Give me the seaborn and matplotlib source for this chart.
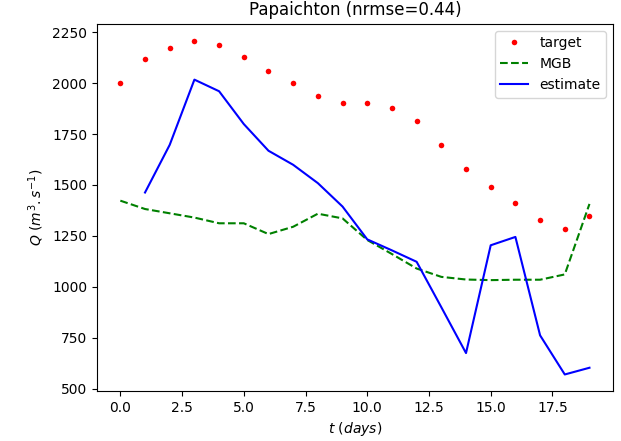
import numpy as np
import pandas as pd
import matplotlib
matplotlib.use("Agg")
import matplotlib.pyplot as plt
import seaborn as sns

days = list(range(20))
target = [2001, 2119, 2170, 2209, 2189, 2129, 2061, 2001, 1938, 1901,
          1903, 1878, 1812, 1697, 1579, 1491, 1410, 1328, 1282, 1348]
mgb = [1423, 1382, 1361, 1340, 1312, 1312, 1259, 1295, 1359, 1336,
       1230, 1161, 1090, 1049, 1036, 1033, 1035, 1035, 1061, 1407]
est_days = list(range(1, 20))
estimate = [1463, 1697, 2017, 1960, 1799, 1668, 1599, 1509, 1394,
            1233, 1179, 1123, 900, 675, 1204, 1245, 762, 570, 603]

fig = plt.figure(figsize=(6.21, 4.41), dpi=100)
ax = fig.add_axes([0.156, 0.113, 0.831, 0.833])

sns.lineplot(x=days, y=target, ax=ax, color="red", marker="o", linestyle="",
             markersize=4, markeredgewidth=0, label="target")
sns.lineplot(x=days, y=mgb, ax=ax, color="green", linestyle="--", label="MGB")
sns.lineplot(x=est_days, y=estimate, ax=ax, color="blue", label="estimate")

ax.set_title("Papaichton (nrmse=0.44)")
ax.set_xlabel(r"$t\ (days)$")
ax.set_ylabel(r"$Q\ (m^3.s^{-1})$")
ax.set_xticks([0, 2.5, 5, 7.5, 10, 12.5, 15, 17.5])
ax.set_yticks([500, 750, 1000, 1250, 1500, 1750, 2000, 2250])
ax.legend(loc="upper right")

fig.savefig("out.png", dpi=100)
